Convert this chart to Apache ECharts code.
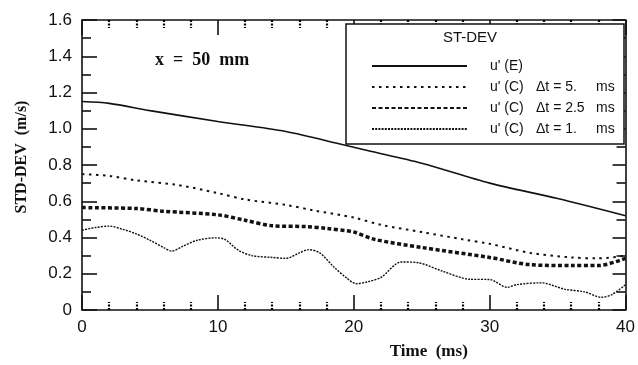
<!DOCTYPE html>
<html>
<head>
<meta charset="utf-8">
<script src="https://cdn.jsdelivr.net/npm/echarts@6/dist/echarts.min.js"></script>
<style>
  html, body { margin: 0; padding: 0; background: #fff; }
  #chart { width: 638px; height: 365px; }
</style>
</head>
<body>
<div id="chart"></div>
<script>
// tick labels
const xTicks = [0, 10, 20, 30, 40];
const yTicks = [0, 0.2, 0.4, 0.6, 0.8, 1.0, 1.2, 1.4, 1.6];

// u' (E)
const timeE = [0, 2, 5, 10, 15, 19.3, 21, 25, 30, 35, 40];
const valE  = [1.15, 1.14, 1.10, 1.04, 0.985, 0.91, 0.88, 0.81, 0.70, 0.615, 0.52];

// u' (C) dt = 5 ms
const time5 = [0, 2, 4, 7, 10, 12, 15, 17, 20, 22, 25, 28, 30, 33, 36, 38, 40];
const val5  = [0.75, 0.74, 0.715, 0.69, 0.645, 0.61, 0.58, 0.55, 0.51, 0.47, 0.43, 0.39, 0.365, 0.315, 0.29, 0.285, 0.30];

// u' (C) dt = 2.5 ms
const time25 = [0, 4, 6, 10, 12, 14, 16.5, 18, 20, 21.5, 25, 30, 33, 36, 38, 40];
const val25  = [0.565, 0.56, 0.545, 0.525, 0.495, 0.465, 0.46, 0.45, 0.43, 0.39, 0.345, 0.29, 0.25, 0.245, 0.245, 0.285];

// u' (C) dt = 1 ms
const time1 = [0, 1, 2, 3, 4, 5, 6, 6.6, 7.5, 8.5, 9.8, 10.5, 11.5, 12.5, 14, 15, 16, 16.7, 17.5, 18.5, 19.5, 20.2, 21, 22, 23.5, 24.8, 26.5, 28.5, 30, 31.3, 32, 33.8, 35.5, 37, 38.2, 39, 40];
const val1  = [0.44, 0.455, 0.463, 0.445, 0.42, 0.385, 0.345, 0.325, 0.355, 0.385, 0.398, 0.39, 0.33, 0.30, 0.29, 0.285, 0.315, 0.333, 0.315, 0.24, 0.175, 0.145, 0.155, 0.18, 0.265, 0.26, 0.215, 0.17, 0.168, 0.125, 0.14, 0.15, 0.115, 0.10, 0.07, 0.085, 0.14];

const seriesNames = ['E', 'C5', 'C25', 'C1'];
const legendText = {
  E:   "u' (E)",
  C5:  "{a|u' (C)}{b|\u0394t = 5.}{c|ms}",
  C25: "{a|u' (C)}{b|\u0394t = 2.5}{c|ms}",
  C1:  "{a|u' (C)}{b|\u0394t = 1.}{c|ms}"
};

function pairs(t, v) {
  return t.map((x, i) => [x, v[i]]);
}

const ink = '#111';
const sans = 'Liberation Sans';
const serif = 'Liberation Serif';

const chart = echarts.init(document.getElementById('chart'));

// x axis (bottom and top)
function xAxisDef(pos) {
  return {
    type: 'value', position: pos, min: 0, max: 40, interval: 10,
    axisLine: { show: true, onZero: false, lineStyle: { color: ink, width: 1.6 } },
    axisTick: { show: true, inside: true, length: 15, lineStyle: { color: ink, width: 1.6 } },
    minorTick: { show: true, splitNumber: 5, length: 8, lineStyle: { color: '#000', width: 2.2, type: [2, 1.5] } },
    splitLine: { show: false },
    axisLabel: {
      show: pos === 'bottom', margin: 9, color: ink, fontFamily: sans, fontSize: 17,
      formatter: v => xTicks.indexOf(v) >= 0 ? String(v) : ''
    },
    name: pos === 'bottom' ? 'Time  (ms)' : '',
    nameLocation: 'middle', nameGap: 33,
    nameTextStyle: { fontFamily: serif, fontWeight: 'bold', fontSize: 17, color: ink, padding: [0, 0, 0, 150] }
  };
}

// y axis (left and right)
function yAxisDef(pos) {
  return {
    type: 'value', position: pos, min: 0, max: 1.6, interval: 0.2,
    axisLine: { show: true, onZero: false, lineStyle: { color: ink, width: 1.6 } },
    axisTick: { show: true, inside: true, length: pos === 'left' ? 15 : 13, lineStyle: { color: ink, width: 1.6 } },
    minorTick: { show: true, splitNumber: 2, length: 9, lineStyle: { color: ink, width: 1.6 } },
    splitLine: { show: false },
    axisLabel: {
      show: pos === 'left', margin: 10, color: ink, fontFamily: sans, fontSize: 17,
      formatter: v => {
        const t = yTicks.find(y => Math.abs(y - v) < 1e-6);
        if (t === undefined) return '';
        return t === 0 ? '0' : t.toFixed(1);
      }
    },
    name: pos === 'left' ? 'STD-DEV  (m/s)' : '',
    nameLocation: 'middle', nameGap: 52,
    nameTextStyle: { fontFamily: serif, fontWeight: 'bold', fontSize: 16, color: ink, padding: [0, 0, 0, 16] }
  };
}

const option = {
  animation: false,
  backgroundColor: '#fff',
  grid: { left: 82, right: 11, top: 20, bottom: 55 },
  xAxis: [xAxisDef('bottom'), xAxisDef('top')],
  yAxis: [yAxisDef('left'), yAxisDef('right')],
  legend: {
    orient: 'vertical', left: 366, top: 54, z: 20,
    itemWidth: 95, itemHeight: 14, itemGap: 7,
    selectedMode: false,
    itemStyle: { opacity: 0 },
    data: seriesNames,
    formatter: name => legendText[name],
    textStyle: {
      color: ink, fontFamily: sans, fontSize: 14, padding: [0, 0, 0, 18],
      rich: {
        a: { width: 46, fontFamily: sans, fontSize: 14, color: ink },
        b: { width: 60, fontFamily: sans, fontSize: 14, color: ink },
        c: { fontFamily: sans, fontSize: 14, color: ink }
      }
    }
  },
  graphic: [
    { type: 'rect', shape: { x: 346, y: 24, width: 278, height: 120 },
      style: { fill: '#fff', stroke: ink, lineWidth: 1.5 }, z: 3 },
    { type: 'text', x: 470, y: 38, z: 11,
      style: { text: 'ST-DEV', fill: ink, font: '15px "Liberation Sans"', textAlign: 'center', textVerticalAlign: 'middle' } },
    { type: 'text', x: 155, y: 60, z: 11,
      style: { text: 'x  =  50  mm', fill: ink, font: 'bold 18px "Liberation Serif"', textAlign: 'left', textVerticalAlign: 'middle' } }
  ],
  series: [
    { name: 'E', type: 'line', symbol: 'none', smooth: 0.3, data: pairs(timeE, valE),
      itemStyle: { color: ink }, lineStyle: { color: ink, width: 1.6 } },
    { name: 'C5', type: 'line', symbol: 'none', smooth: 0.3, data: pairs(time5, val5),
      itemStyle: { color: ink }, lineStyle: { color: ink, width: 2, type: [2.5, 4.5] } },
    { name: 'C25', type: 'line', symbol: 'none', smooth: 0.3, data: pairs(time25, val25),
      itemStyle: { color: ink }, lineStyle: { color: ink, width: 3.5, type: [4, 2.5] } },
    { name: 'C1', type: 'line', symbol: 'none', smooth: 0.3, data: pairs(time1, val1),
      itemStyle: { color: ink }, lineStyle: { color: ink, width: 1.4, type: [2, 1.2] } }
  ]
};

chart.setOption(option);
</script>
</body>
</html>
